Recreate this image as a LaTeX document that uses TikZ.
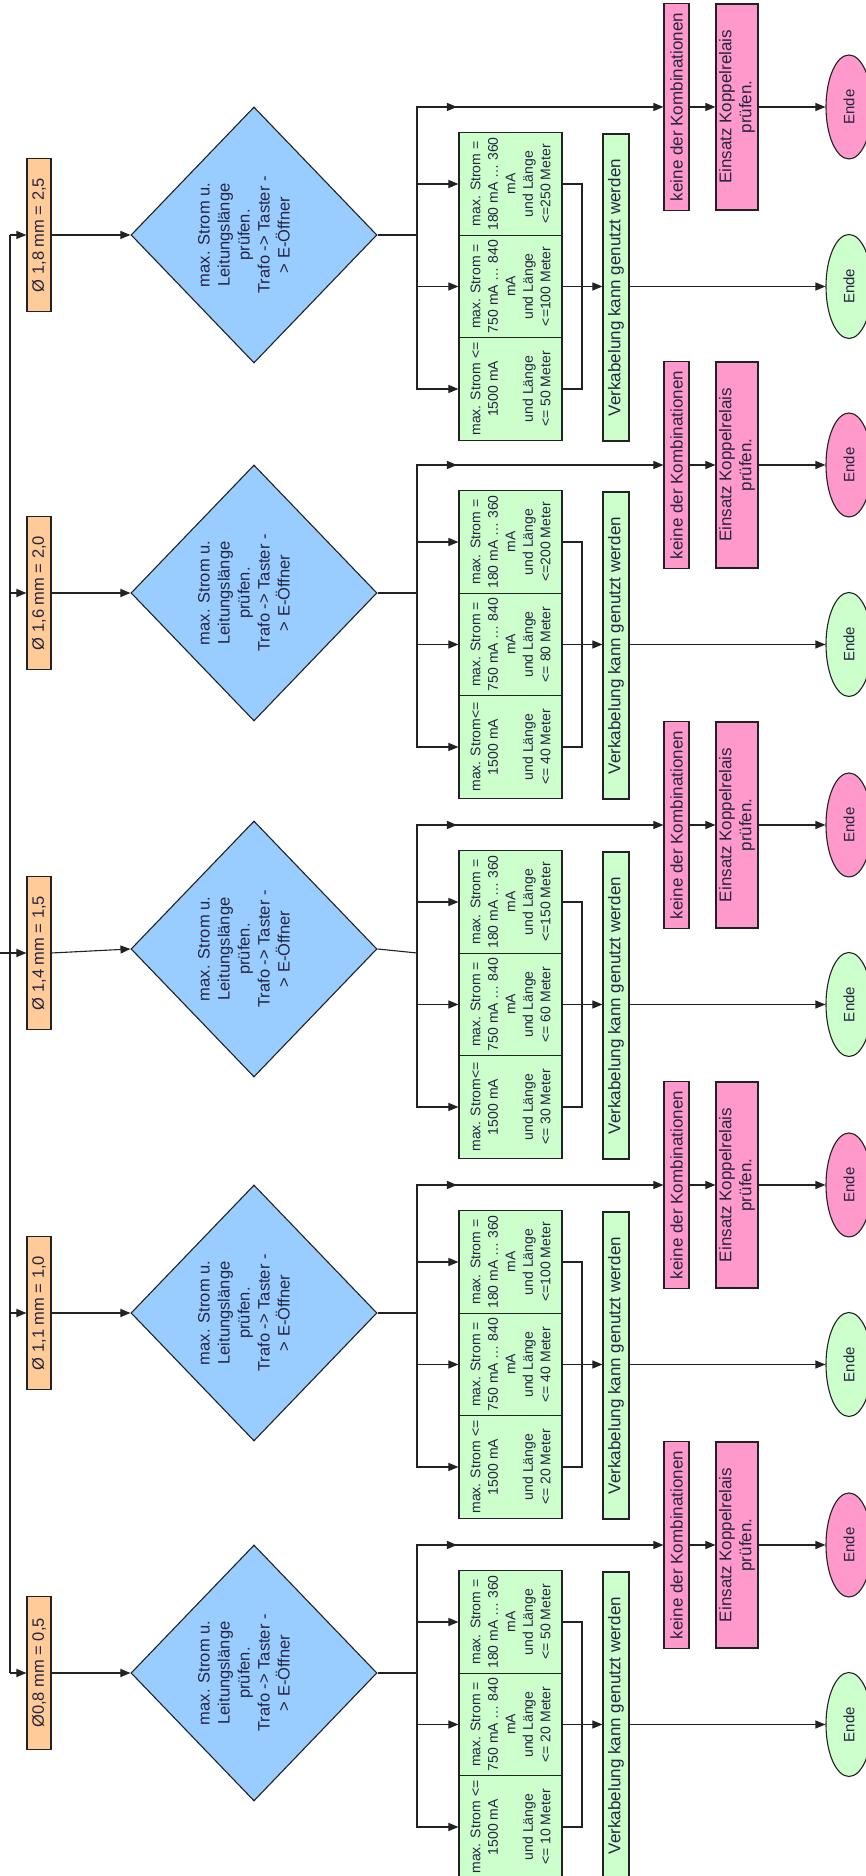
\documentclass[tikz,border=0pt]{standalone}
\usepackage{fontspec}
\setmainfont{Liberation Sans}
\usetikzlibrary{shapes.geometric,arrows.meta}
\definecolor{ofill}{HTML}{FFCC99}
\definecolor{bfill}{HTML}{99CCFF}
\definecolor{gfill}{HTML}{CCFFCC}
\definecolor{pfill}{HTML}{FF99CC}
\definecolor{linec}{HTML}{222222}
\definecolor{textc}{HTML}{252540}
\tikzset{
 base/.style={draw=linec, line width=1.1pt, text=textc, inner sep=0pt, align=center},
 obox/.style={base, fill=ofill, minimum width=153pt, minimum height=24pt, font=\fontsize{16.5}{20}\selectfont},
 dbox/.style={base, diamond, fill=bfill, minimum width=256pt, minimum height=246pt},
 dtext/.style={text=textc, align=center, inner sep=0pt, font=\fontsize{16.5}{20}\selectfont},
 cbox/.style={base, fill=gfill, minimum width=102.5pt, minimum height=103pt, font=\fontsize{14}{17.5}\selectfont},
 vbox/.style={base, fill=gfill, minimum width=307pt, minimum height=26pt, font=\fontsize{17}{20}\selectfont},
 kbox/.style={base, fill=pfill, minimum width=207pt, minimum height=25pt, font=\fontsize{17}{20}\selectfont},
 ebox/.style={base, fill=pfill, minimum width=206pt, minimum height=42pt, font=\fontsize{17}{20}\selectfont},
 endg/.style={base, ellipse, fill=gfill, minimum width=104pt, minimum height=46pt, font=\fontsize{15}{18}\selectfont},
 endp/.style={endg, fill=pfill},
 conn/.style={draw=linec, line width=1.1pt},
 arr/.style={conn, -{Triangle[length=10pt,width=8pt]}},
}
% #1 id, #2 Xc, #3 diamond shift, #4 label, #5 first line 1500 cell, #6 len1500, #7 len750, #8 len180
\newcommand{\flowgroup}[8]{%
 \node[obox] (o#1) at (#2,827) {#4};
 \node[dbox] (d#1) at ({#2+#3},612) {};
 \node[dtext] (dt#1) at ({#2+#3},622) {max. Strom u.\\Leitungslänge\\prüfen.\\Trafo -> Taster -\\> E-Öffner};
 \coordinate (b#1) at (#2,449);
 \coordinate (m#1) at ({#2+128},409);
 \coordinate (j#1) at ({#2-51.5},284);
 \node[cbox] (ca#1) at ({#2-154},355.5) {#5\\1500 mA\\\mbox{}\\und Länge\\#6};
 \node[cbox] (cb#1) at ({#2-51.5},355.5) {max. Strom =\\750 mA … 840\\mA\\und Länge\\#7};
 \node[cbox] (cc#1) at ({#2+51},355.5) {max. Strom =\\180 mA … 360\\mA\\und Länge\\#8};
 \node[vbox] (v#1) at ({#2-52.5},250) {Verkabelung kann genutzt werden};
 \node[kbox] (k#1) at ({#2+128},189.5) {keine der Kombinationen};
 \node[ebox] (e#1) at ({#2+128},129) {Einsatz Koppelrelais\\prüfen.};
 \node[endg] (eg#1) at ({#2-51.5},17) {Ende};
 \node[endp] (ep#1) at ({#2+128},17) {Ende};
 \draw[arr] (o#1.south) -- (d#1.north);
 \draw[conn] (d#1.south) -- (b#1);
 \draw[arr] (b#1) -| (ca#1.north);
 \draw[arr] (b#1) -| (cb#1.north);
 \draw[arr] (b#1) -| (cc#1.north);
 \draw[arr] (b#1) -| (m#1);
 \draw[arr] (b#1) -| (k#1.north);
 \draw[conn] (ca#1.south) |- (j#1) -| (cc#1.south);
 \draw[arr] (cb#1.south) -- (cb#1.south |- v#1.north);
 \draw[arr] (cb#1.south |- v#1.south) -- (eg#1.north);
 \draw[arr] (k#1.south) -- (e#1.north);
 \draw[arr] (e#1.south) -- (ep#1.north);
}
\begin{document}
\begin{tikzpicture}[x=1pt,y=1pt]
\begin{scope}[rotate=90, transform shape]
\useasboundingbox (0,0) rectangle (1876,866);
\fill[white] (0,0) rectangle (1876,866);
\flowgroup{1}{203}{0}{Ø0,8 mm = 0,5}{max. Strom <=}{<= 10 Meter}{<= 20 Meter}{<= 50 Meter}
\flowgroup{2}{563}{0}{Ø 1,1 mm = 1,0}{max. Strom <=}{<= 20 Meter}{<= 40 Meter}{<=100 Meter}
\flowgroup{3}{923}{4}{Ø 1,4 mm = 1,5}{max. Strom<=}{<= 30 Meter}{<= 60 Meter}{<=150 Meter}
\flowgroup{4}{1283}{0}{Ø 1,6 mm = 2,0}{max. Strom<=}{<= 40 Meter}{<= 80 Meter}{<=200 Meter}
\flowgroup{5}{1641}{0}{Ø 1,8 mm = 2,5}{max. Strom <=}{<= 50 Meter}{<=100 Meter}{<=250 Meter}
\coordinate (t1) at (203,856);
\coordinate (t2) at (563,856);
\coordinate (t4) at (1283,856);
\coordinate (t5) at (1641,856);
\coordinate (tin) at (923,870);
\draw[conn] (t1) -- (t5);
\draw[arr] (t1) -- (o1.north);
\draw[arr] (t2) -- (o2.north);
\draw[arr] (tin) -- (o3.north);
\draw[arr] (t4) -- (o4.north);
\draw[arr] (t5) -- (o5.north);
\end{scope}
\end{tikzpicture}
\end{document}
